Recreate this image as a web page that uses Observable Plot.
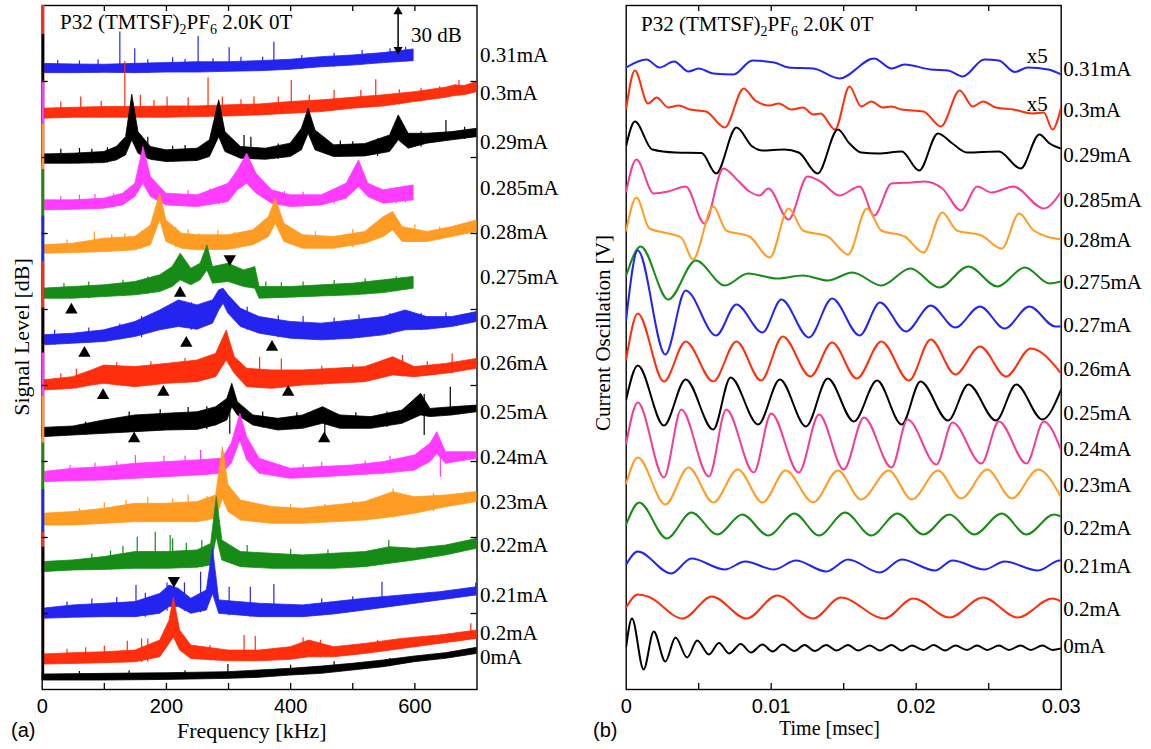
<!DOCTYPE html>
<html><head><meta charset="utf-8">
<script src="https://cdn.jsdelivr.net/npm/d3@7"></script>
<script src="https://cdn.jsdelivr.net/npm/@observablehq/plot@0.6"></script>
<style>
body{margin:0;background:#fff;}
#wrap{position:relative;width:1151px;height:749px;overflow:hidden;background:#fff;}
.panel{position:absolute;top:0;}
.t{position:absolute;font-family:'Liberation Serif','Times New Roman',serif;font-size:21px;color:#000;white-space:nowrap;line-height:1;}
.s{position:absolute;font-family:'Liberation Sans',Arial,sans-serif;font-size:20px;color:#000;white-space:nowrap;line-height:1;}
.sub{font-size:14px;position:relative;top:5px;}
.rot{transform:translate(-50%,-50%) rotate(-90deg);}
</style></head><body><div id="wrap"></div>
<script>
// ---------------- DATA ----------------
const currents = ["0.31mA","0.3mA","0.29mA","0.285mA","0.28mA","0.275mA","0.27mA","0.26mA","0.25mA","0.24mA","0.23mA","0.22mA","0.21mA","0.2mA","0mA"];

// (a) spectra: stacking offset of each trace [dB], label level [dB]
const specOffsetDb = [405.5,375.5,345.9,315.2,286.7,257.1,226.4,196.7,166,136.4,107.9,77.2,46.5,16.4,5.9];
const specLabelDb  = [417.2,392.4,360.1,329.7,300.9,271.3,241.7,214.3,182.5,152.5,123.3,94.8,61.9,36.7,21.3];

// noise envelope of each spectrum: [frequency kHz, lower dB, upper dB] relative to offset
const spec031Band = [[0,0,6.1],[50,0,5.7],[100,0.2,5.5],[150,0,6.1],[200,0.4,6.6],[250,0.4,7.2],[300,0.9,7.2],[350,1.3,7.9],[400,2.2,8.8],[450,3.9,10.5],[500,5.0,11.6],[550,6.6,13.2],[598,7.9,15.6]];
const spec030Band = [[0,0,6.6],[50,0.7,7.2],[100,0.7,7.7],[150,0.7,7.7],[200,0.7,8.1],[250,1.1,8.1],[300,1.5,8.8],[350,2.2,9.4],[400,3.3,11],[450,4.4,12.1],[500,6.6,13.8],[550,8.1,15.4],[600,11,17.5],[650,13.8,20.4],[665,15,22],[680,15.5,21.5],[700,17.5,24.1]];
const spec029Band = [[0,0,6.1],[50,0,6.6],[100,0.4,7.7],[120,2.2,11],[135,5.5,17.5],[145,15.4,45.4],[155,6.6,20.8],[175,2.6,11],[200,1.1,8.8],[250,1.8,9.9],[270,4.4,15.4],[285,17.5,41.7],[295,7.7,20.8],[320,3.3,11],[360,2.6,9.9],[400,4.4,13.2],[418,8.8,23],[429,19.7,36.2],[440,8.8,21.9],[470,4.4,12.1],[520,4.8,12.9],[560,7.7,18.6],[574,15.4,31.8],[590,9.9,19.7],[620,13.2,19.7],[660,15.4,20.8],[700,17.5,23]];
const spec0285Band = [[0,0,6.6],[50,0.4,6.6],[100,1.1,7.7],[130,3.3,11],[150,8.8,17.5],[163,17.5,41.7],[175,8.8,21.9],[200,3.3,11],[250,2.2,9.9],[300,5.5,17.5],[315,13.2,26.3],[330,17.5,37.3],[345,11,24.1],[370,4.4,13.2],[400,2.2,9.9],[450,3.3,9.9],[490,7.7,17.5],[510,15.4,32.9],[525,8.8,17.5],[550,4.4,13.2],[598,6.6,16.4]];
const spec028Band = [[0,0,5.5],[50,0.4,6.6],[100,1.1,9.9],[150,2.2,11],[175,5.5,18.6],[190,21.9,39.5],[200,7.7,21.9],[225,3.3,13.2],[250,2.2,12.1],[300,2.6,12.1],[340,5.5,15.4],[365,11,24.1],[376,19.7,36.2],[390,7.7,19.7],[420,3.3,12.1],[470,3.3,11],[520,6.6,14.3],[550,11,24.1],[565,15.4,27.4],[580,7.7,17.5],[620,7.7,14.3],[660,11,17.5],[700,14.3,21.9]];
const spec0275Band = [[0,0,6.6],[50,0,7.7],[100,1.1,8.8],[150,2.2,11],[190,4.4,15.4],[210,7.7,20.8],[223,12.1,29.6],[240,8.8,19.7],[255,12.1,23],[266,18.6,35.1],[275,9.9,20.8],[300,11,23],[325,7.7,18.6],[343,6.6,20.8],[350,0,7.7],[400,0.7,7.7],[450,1.5,8.8],[500,2.2,9.9],[550,3.7,12.1],[598,6.6,14.3]];
const spec027Band = [[0,0,6.6],[50,1.1,7.7],[100,2.2,9.9],[150,5.5,15.4],[190,9.9,23],[220,12.1,29.6],[250,10.3,26.3],[275,14.3,29.6],[285,23,36.2],[292,27.4,37.3],[300,20.8,32.9],[320,12.1,24.1],[350,7.7,18.6],[400,4.4,15.4],[450,3.3,14.3],[500,4.4,16.4],[550,6.6,18.6],[585,9.9,23],[620,10.3,18.6],[660,12.1,18.6],[700,15.4,21.9]];
const spec026Band = [[0,0,6.6],[50,1.1,8.8],[80,3.3,13.2],[100,4.4,16.4],[150,2.2,15.4],[200,4.4,17.5],[250,5.5,19.7],[280,8.8,24.1],[297,19.7,39.5],[310,11,21.9],[330,2.2,14.3],[370,1.1,13.2],[420,3.3,13.2],[470,4.4,14.3],[520,5.5,15.4],[565,9.9,21.9],[600,8.8,15.4],[650,11,17.5],[700,14.3,20.8]];
const spec025Band = [[0,0,6.1],[50,1.1,7],[100,2.2,11],[150,3.3,14.3],[200,4.4,15.4],[250,4.8,16.4],[280,7.7,19.7],[298,11,25.2],[306,19.7,35.1],[315,14.3,23],[340,7.7,14.3],[380,4.4,12.1],[420,5.5,14.3],[452,8.8,19.7],[480,5.5,14.3],[530,5.5,13.2],[580,8.8,17.5],[610,14.3,28.5],[625,13.2,18.6],[660,14.3,19.7],[700,16.4,20.8]];
const spec024Band = [[0,0,6.6],[50,0.7,8.8],[100,1.1,9.9],[150,2.2,12.1],[200,3.3,13.2],[250,4.4,14.3],[290,5.5,15.4],[305,12.1,25.2],[319,27.4,45],[330,14.3,29.6],[350,5.5,15.4],[400,2.2,8.8],[450,3.3,9.9],[500,4.4,11],[550,5.5,13.2],[600,7.7,17.5],[625,13.2,25.2],[636,18.6,32.9],[650,12.1,19.7],[700,15.4,19.7]];
const spec023Band = [[0,0,7.7],[50,0,8.8],[100,1.1,11],[150,2.2,14.3],[200,2.2,14.3],[250,2.2,15.4],[280,4.4,19.7],[291,17.5,51.5],[300,8.8,26.3],[320,3.3,16.4],[370,1.1,12.1],[420,1.1,11],[470,2.2,13.2],[520,3.3,15.4],[565,5.5,21.9],[600,7.7,18.6],[650,12,19.7],[700,15.4,22]];
const spec022Band = [[0,0,6.6],[50,1.1,7.7],[100,1.5,9.9],[150,2.2,13.2],[200,2.2,13.2],[250,2.9,14.3],[272,4.4,18.6],[281,23,49.4],[290,7.7,20.8],[320,3.3,13.2],[370,2.2,12.1],[420,2.2,11],[470,2.2,12.1],[520,3.3,13.2],[560,5.5,16.4],[600,7.7,15.4],[650,11,17.5],[700,15.4,21.9]];
const spec021Band = [[0,0,6.6],[50,0.7,8.8],[100,1.1,9.9],[150,1.1,11],[190,3.3,16.4],[205,7.7,21.9],[220,7.7,19.7],[240,3.3,13.2],[265,5.5,18.6],[275,16.4,46.1],[285,3.3,12.1],[350,1.1,9.9],[420,1.1,8.8],[470,2.9,11],[520,5.5,13.2],[580,8.8,15.4],[640,12.1,17.5],[700,15.4,20.8]];
const spec020Band = [[0,0,6.6],[50,0.4,7.5],[100,0.9,8.1],[150,1.5,9.2],[190,4.8,15.8],[205,13.6,28.9],[212,18,43.9],[222,9.2,22.4],[240,3.7,12.5],[300,2.2,9.2],[350,2.2,9.2],[400,3.1,11.4],[430,4.8,15.8],[470,4.8,11.4],[520,7,13.6],[580,10.3,16.9],[640,13.6,19.1],[700,16.9,22.4]];
const spec000Band = [[0,0,3.9],[100,0,4.4],[200,0.4,4.8],[300,1.1,5.5],[350,1.8,6.6],[400,3.3,7.7],[450,4.4,9.2],[500,6.6,11],[550,8.8,13.2],[600,12.1,15.8],[650,14.3,18],[700,17.5,21.5]];

// isolated spikes: [frequency kHz, from dB, to dB] relative to offset (f=0 is the DC spike)
const spec031Spikes = [[0,0,85],[25,0,8.3],[60,0,8],[90,0,8.8],[125,0,27],[149,0,16],[170,0,8.8],[210,0.4,10.1],[230,0.4,9],[251,0.4,24.1],[275,0.6,9.5],[301,0.9,16.7],[320,1,10.5],[355,1.3,10.5],[373,1.5,20.4],[418,2.5,11.6],[470,4,13],[515,5.4,14.9],[560,7,16],[585,7.5,17]];
const spec030Spikes = [[0,0,85],[30,0.3,11],[62,0.7,14.3],[95,0.7,11.5],[133,0.7,37.7],[158,0.7,15.4],[180,0.7,12],[201,0.7,14.3],[235,1,13.8],[267,1.1,27],[290,1.5,14.3],[320,1.8,12.5],[341,2,14.3],[380,3,14.3],[401,3.3,25.2],[430,4,15.4],[470,5.5,18.6],[513,7,18.6],[537,7.7,25.7],[575,9,19],[610,11,20],[640,13,21],[671,15,25.2]];
const spec029Spikes = [[0,0,85],[30,0,9.5],[60,0,10],[80,0,9.5],[105,0.4,10.5],[170,2.6,17.5],[210,1.2,11.5],[230,1.5,12],[325,3.3,18.6],[336,3,17.5],[380,3,13],[480,4.4,15],[500,4.6,14.5],[540,5,16.5],[610,11,21],[650,15,28.5],[680,16,24]];
const spec0285Spikes = [[0,0,85],[30,0.2,9],[60,0.4,10],[85,0.7,10.5],[115,2,11],[235,2.2,13],[270,3,14],[285,3.5,15],[390,3,12.5],[420,2.2,12],[470,4,13],[570,4.4,15],[585,5,16]];
const spec028Spikes = [[0,0,85],[40,0.3,9],[84,0.7,14.3],[112,1.4,12.5],[133,1.8,13.2],[160,3,15],[215,4,17.5],[235,3.3,15.8],[252,2.2,13.2],[283,2.6,15.4],[310,3,14],[440,3.3,14.5],[500,4,16],[600,7.7,19],[640,9,17.5]];
const spec0275Spikes = [[0,0,85],[35,0,10],[75,0,11],[130,1.5,12.1],[170,3,14.3],[360,0.5,11],[385,0.6,10.5],[420,1,11],[470,2,12],[520,2.5,13],[570,4.5,14.5]];
const spec027Spikes = [[0,0,85],[20,0,10],[75,1.5,11.5],[125,3.5,14],[160,5,19],[240,10,28],[330,10,25],[380,5,19.5],[420,4,19],[470,3.5,18],[510,5,20],[560,7,21],[610,10,21],[650,12,21.5]];
const spec026Spikes = [[0,0,85],[30,0.5,11],[55,1,14],[120,3,18.5],[175,3,19],[230,5,21],[350,1.5,21.9],[385,1.5,20.8],[450,3.5,16],[500,5,17],[580,9,23],[620,9.5,19],[660,11,24.1]];
const spec025Spikes = [[0,0,85],[70,1.5,10],[140,3,16.5],[190,4,18],[235,4.8,19.5],[265,5,20],[302,2,25],[355,6,16.5],[410,5,16],[455,1,19],[505,5.5,16],[555,6.5,16.5],[615,1.1,28],[657,14.3,32.9]];
const spec024Spikes = [[0,0,85],[45,0.6,11],[85,1,12.5],[120,1.5,13.5],[150,2.2,17.5],[196,3.3,17],[230,4,17],[255,4.4,20.8],[420,2.6,11.5],[450,3.3,13],[520,4.8,14],[560,5.5,17],[641,3.3,18.6]];
const spec023Spikes = [[0,0,85],[60,0.2,11],[100,1,15],[135,2,16.5],[170,2,18.5],[210,2.2,17.5],[235,2.2,20],[265,3,19],[400,1.1,14],[455,1.5,14],[500,2.8,16],[565,5,24],[630,9,21]];
const spec022Spikes = [[0,0,85],[80,1.3,12],[110,1.6,14],[130,2,17],[153,2.2,23],[182,2.2,26.3],[206,2.2,24.1],[210,2.2,22],[232,2.5,19],[257,2.9,20.8],[330,3.3,17.5],[400,2.2,15],[460,2.2,14.5],[558,5.5,20.8]];
const spec021Spikes = [[0,0,85],[40,0.6,11],[80,0.9,13],[120,1.1,14],[151,1.1,21.9],[166,1.1,16.9],[201,5,23.5],[229,5,23.5],[255,4,30.7],[301,2,20.8],[335,1.1,20.8],[373,1.1,22.6],[450,2,13],[500,4.5,14.5],[547,7,24.1],[698,15.4,23.5]];
const spec020Spikes = [[0,0,87],[40,0.3,10],[70,0.6,11],[100,1,12],[137,1.5,15.4],[160,1.5,16.9],[170,1.5,16.9],[270,2.5,12.5],[325,2.2,19.1],[343,2.2,18.4],[420,4,17.5],[448,4.5,16],[540,8,16],[600,11,18],[690,16.5,26.8]];
const spec000Spikes = [[0,0,87.7],[60,0,6],[140,0.2,6.5],[230,0.6,6.5],[299,1.1,10.5],[400,3.3,10],[470,5.5,12.3],[560,9,14.5]];

// markers on the spectra: [frequency kHz, level dB]
const markersUp = [[222,260.8],[47,249.8],[232,227.9],[370,225.2],[68,221.3],[98,193.5],[195,195.6],[396,195.6],[148,165],[454,165]];
const markersDown = [[302,283.4],[212,71.7]];
const scaleBarKHz = 573, scaleBarDb = [418.5, 448.5]; // "30 dB" bar

const freqTickLabels = [0,200,400,600];
const freqTicks = [100,200,300,400,500,600];
const dbTicks = [50,100,150,200,250,300,350,400];

// (b) time traces: offset of each trace [V, arbitrary], points [time msec, V rel.]
const oscOffset = [62.0,57.9,53.4,48.9,44.9,40.7,36.4,32.0,27.6,24.0,20.4,16.1,12.3,8.0,4.3];
const osc031 = [[0,0.2],[0.0014,1.0],[0.0023,0.2],[0.0033,0.8],[0.0043,-0.2],[0.0050,0.1],[0.0060,-0.4],[0.0074,-0.5],[0.0087,0.9],[0.0102,0.7],[0.0112,0.2],[0.0129,0.1],[0.0147,-0.9],[0.0171,1.1],[0.0183,0.1],[0.0192,0.5],[0.0210,0.0],[0.0222,-0.1],[0.0232,-0.7],[0.0247,1.0],[0.0257,0.9],[0.0268,-0.25],[0.0277,0.2],[0.0291,0.0],[0.0300,-0.5]];
const osc030 = [[0,0.2],[0.0006,4.0],[0.0015,0.7],[0.0021,1.3],[0.0029,0.3],[0.0036,0.5],[0.0044,0.1],[0.0055,-0.1],[0.0068,-1.7],[0.0081,2.2],[0.0089,1.0],[0.0099,0.5],[0.0105,0.7],[0.0114,0.1],[0.0122,0.3],[0.0129,-0.4],[0.0134,-0.3],[0.0144,-1.9],[0.0154,2.4],[0.0162,0.4],[0.0169,0.9],[0.0177,0.3],[0.0183,0.4],[0.0190,0.1],[0.0205,-0.1],[0.0217,-1.6],[0.0230,2.0],[0.0239,0.4],[0.0246,0.9],[0.0255,0.3],[0.0267,0.1],[0.0280,-0.3],[0.0288,-0.2],[0.0294,-1.9],[0.0300,0.35]];
const osc029 = [[0,1.0],[0.0006,3.4],[0.0018,0.6],[0.0034,0.3],[0.0052,0.25],[0.0062,-1.8],[0.0076,2.8],[0.0087,0.9],[0.0094,0.5],[0.0109,0.6],[0.0119,0.3],[0.0132,-1.8],[0.0146,2.6],[0.0154,1.2],[0.0162,0.3],[0.0174,0.2],[0.0190,0.4],[0.0202,-1.5],[0.0215,2.2],[0.0225,1.2],[0.0235,0.3],[0.0257,0.4],[0.0272,-1.3],[0.0285,2.1],[0.0292,1.2],[0.0300,0.7]];
const osc0285 = [[0,0.9],[0.0007,4.1],[0.0019,0.7],[0.0029,0.9],[0.0041,1.4],[0.0054,-2.3],[0.0067,3.2],[0.0077,2.0],[0.0085,0.9],[0.0092,0.5],[0.0098,1.2],[0.0112,-1.9],[0.0125,2.4],[0.0134,1.9],[0.0147,0.5],[0.0161,1.4],[0.0171,-1.5],[0.0183,1.7],[0.0197,1.8],[0.0206,1.9],[0.0218,1.2],[0.0231,-1.0],[0.0242,1.4],[0.0252,0.8],[0.0267,1.4],[0.0288,-0.8],[0.0300,0.9]];
const osc028 = [[0,1.0],[0.0007,4.3],[0.0016,1.2],[0.0026,0.8],[0.0038,0.3],[0.0046,-1.9],[0.0060,3.4],[0.0069,1.0],[0.0085,0.4],[0.0099,-1.7],[0.0112,3.2],[0.0122,1.0],[0.0139,0.4],[0.0153,-1.4],[0.0166,3.2],[0.0176,1.0],[0.0192,0.4],[0.0205,-1.2],[0.0218,2.8],[0.0228,1.0],[0.0245,0.5],[0.0259,-0.8],[0.0271,2.7],[0.0281,1.0],[0.0300,0.1]];
const osc0275 = [[0,0.7],[0.0010,3.6],[0.0029,-1.7],[0.0048,2.2],[0.0068,-0.3],[0.0084,0.9],[0.0104,0.4],[0.0122,0.7],[0.0139,0.2],[0.0156,1.0],[0.0176,-0.3],[0.0196,1.4],[0.0216,-0.5],[0.0236,1.6],[0.0256,-0.4],[0.0275,1.5],[0.0292,-0.1],[0.0300,0.1]];
const osc027 = [[0,0.6],[0.0008,7.5],[0.0027,-2.9],[0.0041,3.5],[0.0062,-1.0],[0.0076,2.1],[0.0094,-0.7],[0.0107,2.6],[0.0126,-1.2],[0.0142,2.7],[0.0161,-1.0],[0.0175,2.3],[0.0193,-0.6],[0.0210,2.0],[0.0227,-0.2],[0.0244,1.9],[0.0261,-0.3],[0.0278,1.9],[0.0296,-0.1],[0.0300,-0.1]];
const osc026 = [[0,1.0],[0.0008,5.6],[0.0026,-1.2],[0.0041,2.8],[0.0060,-1.2],[0.0076,2.8],[0.0093,-1.1],[0.0108,3.3],[0.0127,-0.7],[0.0142,2.7],[0.0159,-0.9],[0.0176,2.8],[0.0195,-1.1],[0.0210,3.0],[0.0227,-0.5],[0.0244,2.3],[0.0262,-0.7],[0.0279,2.1],[0.0300,-0.4]];
const osc025 = [[0,1.4],[0.0008,4.8],[0.0026,-1.2],[0.0041,3.4],[0.0060,-1.6],[0.0072,3.6],[0.0091,-1.1],[0.0106,3.4],[0.0124,-1.3],[0.0139,3.5],[0.0157,-0.8],[0.0173,3.3],[0.0190,-1.1],[0.0203,3.2],[0.0222,-0.7],[0.0236,2.9],[0.0255,-0.7],[0.0269,2.9],[0.0287,-0.6],[0.0300,2.4]];
const osc024 = [[0,0.6],[0.0008,4.7],[0.0026,-2.8],[0.0038,4.0],[0.0057,-2.7],[0.0069,4.0],[0.0088,-2.3],[0.0100,3.6],[0.0119,-2.3],[0.0133,3.5],[0.0150,-2.0],[0.0164,3.2],[0.0183,-1.8],[0.0194,3.0],[0.0214,-1.5],[0.0225,2.7],[0.0245,-1.4],[0.0257,2.8],[0.0276,-1.4],[0.0288,2.8],[0.0300,-0.1]];
const osc023 = [[0,0.2],[0.0008,2.8],[0.0027,-1.9],[0.0043,1.8],[0.0060,-1.7],[0.0077,1.6],[0.0094,-1.7],[0.0110,1.5],[0.0129,-1.7],[0.0146,1.5],[0.0162,-1.4],[0.0181,1.5],[0.0197,-1.4],[0.0215,1.5],[0.0231,-1.3],[0.0249,1.6],[0.0266,-1.3],[0.0284,1.6],[0.0300,-1.2]];
const osc022 = [[0,0.4],[0.0009,2.6],[0.0028,-1.0],[0.0045,1.6],[0.0063,-0.6],[0.0080,1.4],[0.0098,-0.7],[0.0116,1.5],[0.0133,-0.7],[0.0151,1.6],[0.0169,-0.7],[0.0187,1.5],[0.0205,-0.6],[0.0223,1.4],[0.0240,-0.6],[0.0259,1.5],[0.0276,-0.6],[0.0295,1.4],[0.0300,1.2]];
const osc021 = [[0,0.2],[0.0008,1.5],[0.0031,-0.7],[0.0045,0.8],[0.0068,-0.3],[0.0082,0.5],[0.0102,-0.3],[0.0117,0.6],[0.0138,-0.5],[0.0153,0.7],[0.0175,-0.6],[0.0190,0.7],[0.0213,-0.4],[0.0225,0.6],[0.0247,-0.3],[0.0261,0.5],[0.0284,-0.4],[0.0299,0.6],[0.0300,0.6]];
const osc020 = [[0,0.2],[0.0008,1.5],[0.0015,1.3],[0.0039,-0.9],[0.0059,1.3],[0.0083,-0.9],[0.0104,1.4],[0.0129,-0.9],[0.0148,1.2],[0.0178,-0.9],[0.0198,1.1],[0.0223,-0.8],[0.0246,1.2],[0.0270,-0.8],[0.0294,1.1],[0.0300,0.8]];
const osc000 = [[0,0],[0.0004,2.8],[0.0012,-2.3],[0.0019,1.5],[0.0027,-1.5],[0.0034,0.9],[0.0042,-1.1],[0.0049,0.6],[0.0057,-0.8],[0.0064,0.35],[0.0071,-0.7],[0.0079,0.25],[0.0086,-0.6],[0.0094,0.2],[0.0101,-0.5],[0.0108,0.2],[0.0116,-0.45],[0.0123,0.15],[0.0130,-0.45],[0.0138,0.15],[0.0145,-0.4],[0.0153,0.15],[0.0160,-0.4],[0.0168,0.1],[0.0175,-0.4],[0.0183,0.15],[0.0190,-0.4],[0.0197,0.1],[0.0205,-0.35],[0.0212,0.15],[0.0220,-0.4],[0.0227,0.1],[0.0235,-0.35],[0.0242,0.1],[0.0249,-0.35],[0.0257,0.1],[0.0264,-0.35],[0.0272,0.1],[0.0279,-0.35],[0.0287,0.1],[0.0294,-0.35],[0.0300,-0.2]];
const gainNotes = [["x5",0.02834,63.3],["x5",0.02834,58.5]];
const timeTickLabels = [0,0.01,0.02,0.03];
const timeTicks = [0.005,0.01,0.015,0.02,0.025];

// ---------------- STYLE / DRAW ----------------
const BLUE="#2424f0", RED="#ff2e0c", BLACK="#000000", MAG="#ff3cff", PINK="#f23e98", ORANGE="#ff9c24", GREEN="#168c16";
const leftColors  = [BLUE,RED,BLACK,MAG,ORANGE,GREEN,BLUE,RED,BLACK,MAG,ORANGE,GREEN,BLUE,RED,BLACK];
const rightColors = [BLUE,RED,BLACK,PINK,ORANGE,GREEN,BLUE,RED,BLACK,PINK,ORANGE,GREEN,BLUE,RED,BLACK];
const bands  = [spec031Band,spec030Band,spec029Band,spec0285Band,spec028Band,spec0275Band,spec027Band,spec026Band,spec025Band,spec024Band,spec023Band,spec022Band,spec021Band,spec020Band,spec000Band];
const spikes = [spec031Spikes,spec030Spikes,spec029Spikes,spec0285Spikes,spec028Spikes,spec0275Spikes,spec027Spikes,spec026Spikes,spec025Spikes,spec024Spikes,spec023Spikes,spec022Spikes,spec021Spikes,spec020Spikes,spec000Spikes];
const oscs = [osc031,osc030,osc029,osc0285,osc028,osc0275,osc027,osc026,osc025,osc024,osc023,osc022,osc021,osc020,osc000];

const wrap = document.getElementById("wrap");
const SERIF = "Liberation Serif, Times New Roman, serif";

// ---- panel (a)
const aW = 580, aML = 41.7, aPW = 434.8, aMT = 5, aPH = 684;
const fTick = 6 * 700 / aPW, dTick = 6 * 450 / aPH;
const specMarks = [];
bands.forEach((band, i) => {
  const off = specOffsetDb[i], c = leftColors[i];
  specMarks.push(Plot.ruleX(spikes[i], {x: d => d[0], y1: d => off + d[1], y2: d => off + d[2], stroke: c, strokeWidth: d => d[0] === 0 ? 4 : 1.2, clip: true}));
  specMarks.push(Plot.areaY(band, {x: d => d[0], y1: d => off + d[1], y2: d => off + d[2], fill: c, stroke: c, strokeWidth: 0.8, clip: true}));
});
const plotA = Plot.plot({
  width: aW, height: 749, marginLeft: aML, marginRight: aW - aML - aPW, marginTop: aMT, marginBottom: 749 - aMT - aPH,
  x: {domain: [0, 700]}, y: {domain: [0, 450], axis: null},
  style: {fontFamily: "Liberation Sans, Arial, sans-serif", background: "transparent", overflow: "visible"},
  marks: [
    Plot.frame({stroke: "black", strokeWidth: 1.4}),
    ...specMarks,
    Plot.ruleX(freqTicks, {x: d => d, y1: 0, y2: dTick, stroke: "black", strokeWidth: 1.3}),
    Plot.ruleX(freqTicks, {x: d => d, y1: 450 - dTick, y2: 450, stroke: "black", strokeWidth: 1.3}),
    Plot.ruleY(dbTicks, {y: d => d, x1: 0, x2: fTick, stroke: "black", strokeWidth: 1.3}),
    Plot.ruleY(dbTicks, {y: d => d, x1: 700 - fTick, x2: 700, stroke: "black", strokeWidth: 1.3}),
    Plot.dot(markersUp, {x: d => d[0], y: d => d[1], symbol: "triangle", r: 4.6, fill: "black", stroke: "none"}),
    Plot.dot(markersDown, {x: d => d[0], y: d => d[1], symbol: "triangle", r: 4.6, fill: "black", stroke: "none", rotate: 180}),
    Plot.ruleX([scaleBarKHz], {x: d => d, y1: scaleBarDb[0] + 2, y2: scaleBarDb[1] - 2, stroke: "black", strokeWidth: 1.5}),
    Plot.dot([[scaleBarKHz, scaleBarDb[1] - 2.5]], {x: d => d[0], y: d => d[1], symbol: "triangle", r: 3.4, fill: "black", stroke: "none"}),
    Plot.dot([[scaleBarKHz, scaleBarDb[0] + 2.5]], {x: d => d[0], y: d => d[1], symbol: "triangle", r: 3.4, fill: "black", stroke: "none", rotate: 180}),
    Plot.axisX({ticks: freqTickLabels, tickSize: 0, tickPadding: 9, fontSize: 20, label: null, tickFormat: d => String(d)}),
    Plot.text(currents, {y: (d, i) => specLabelDb[i], text: d => d, frameAnchor: "right", dx: 3, textAnchor: "start", fontFamily: SERIF, fontSize: 21, fill: "black"})
  ]
});
plotA.classList.add("panel"); plotA.style.left = "0px";
wrap.appendChild(plotA);

// ---- panel (b)
const bLeft = 580, bW = 571, bML = 45.7, bPW = 435, bPH = 684;
const vTick = 6 * 68.4 / bPH;
const oscMarks = oscs.map((pts, i) => Plot.lineY(pts, {x: d => d[0], y: d => oscOffset[i] + d[1], stroke: rightColors[i], strokeWidth: 2, curve: "monotone-x", clip: true}));
const plotB = Plot.plot({
  width: bW, height: 749, marginLeft: bML, marginRight: bW - bML - bPW, marginTop: 5, marginBottom: 749 - 5 - bPH,
  x: {domain: [0, 0.03]}, y: {domain: [0, 68.4], axis: null},
  style: {fontFamily: "Liberation Sans, Arial, sans-serif", background: "transparent", overflow: "visible"},
  marks: [
    Plot.frame({stroke: "black", strokeWidth: 1.4}),
    ...oscMarks,
    Plot.ruleX(timeTicks, {x: d => d, y1: 0, y2: vTick, stroke: "black", strokeWidth: 1.3}),
    Plot.ruleX(timeTicks, {x: d => d, y1: 68.4 - vTick, y2: 68.4, stroke: "black", strokeWidth: 1.3}),
    Plot.axisX({ticks: timeTickLabels, tickSize: 0, tickPadding: 9, fontSize: 20, label: null, tickFormat: d => String(d)}),
    Plot.text(currents, {y: (d, i) => oscOffset[i], text: d => d, frameAnchor: "right", dx: 2, textAnchor: "start", fontFamily: SERIF, fontSize: 21, fill: "black"}),
    Plot.text(gainNotes, {x: d => d[1], y: d => d[2], text: d => d[0], fontFamily: SERIF, fontSize: 21, fill: "black"})
  ]
});
plotB.classList.add("panel"); plotB.style.left = bLeft + "px";
wrap.appendChild(plotB);

// ---- html text
const SERIF_CSS = "'Liberation Serif','Times New Roman',serif";
function addText(cls, html, css) {
  const d = document.createElement("div"); d.className = cls; d.innerHTML = html;
  Object.assign(d.style, css); wrap.appendChild(d); return d;
}
addText("t", 'P32 (TMTSF)<span class="sub">2</span>PF<span class="sub">6</span> 2.0K 0T', {left: "60px", top: "12px", fontFamily: SERIF_CSS});
addText("t", 'P32 (TMTSF)<span class="sub">2</span>PF<span class="sub">6</span> 2.0K 0T', {left: "641px", top: "14px", fontFamily: SERIF_CSS});
addText("t", '30 dB', {left: "411px", top: "25px", fontFamily: SERIF_CSS});
addText("t", 'Frequency [kHz]', {left: "177px", top: "720px", fontSize: "22px", fontFamily: SERIF_CSS});
addText("t", 'Time [msec]', {left: "779px", top: "718px", fontSize: "20px", fontFamily: SERIF_CSS});
addText("s", '(a)', {left: "11px", top: "720px"});
addText("s", '(b)', {left: "593px", top: "720px"});
addText("t rot", 'Signal Level [dB]', {left: "22px", top: "337px", fontSize: "22px", fontFamily: SERIF_CSS});
addText("t rot", 'Current Oscillation [V]', {left: "603px", top: "333px", fontSize: "21px", fontFamily: SERIF_CSS});
</script>
</body></html>
